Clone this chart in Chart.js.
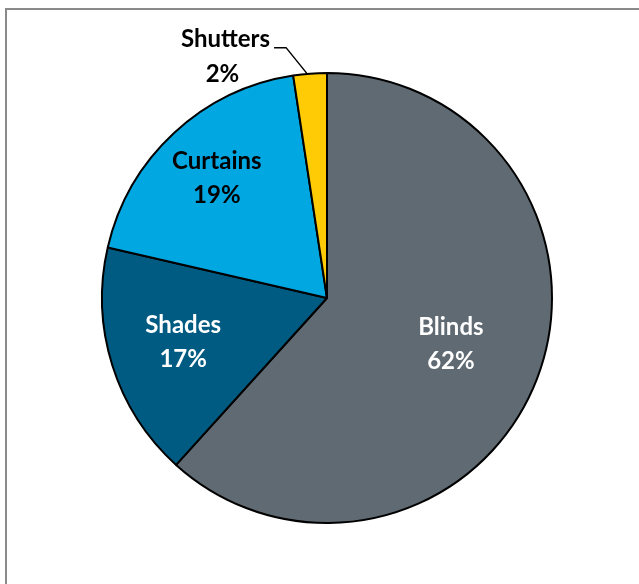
<!DOCTYPE html>
<html>
<head>
<meta charset="utf-8">
<script src="https://cdn.jsdelivr.net/npm/chart.js@4"></script>
<style>
  html, body { margin: 0; padding: 0; background: #fff; }
  #wrap { width: 639px; height: 584px; }
</style>
</head>
<body>
<div id="wrap"><canvas id="myChart" width="639" height="584"></canvas></div>
<script>
const categories = ['Blinds', 'Shades', 'Curtains', 'Shutters'];
const shares = [61.7, 16.9, 19.0, 2.4];
const colors = ['#5f6a72', '#005b82', '#00a7e1', '#ffcb05'];
const textColors = ['#ffffff', '#ffffff', '#000000', '#000000'];
// how far out (fraction of radius) the label sits
const labelRadius = [0.59, 0.67, 0.72, 0];

const framePlugin = {
    id: 'frame',
    beforeDraw(chart) {
        const c = chart.ctx;
        c.save();
        c.strokeStyle = '#8a8a8a';
        c.lineWidth = 2;
        c.beginPath();
        c.moveTo(6, 584);
        c.lineTo(6, 9);
        c.lineTo(639, 9);
        c.stroke();
        c.restore();
    }
};

const labelPlugin = {
    id: 'sliceLabels',
    afterDraw(chart) {
        const c = chart.ctx;
        const meta = chart.getDatasetMeta(0);
        c.save();
        c.font = 'bold 24px Lato';
        c.textBaseline = 'middle';
        meta.data.forEach((arc, i) => {
            const mid = (arc.startAngle + arc.endAngle) / 2;
            const text2 = Math.round(shares[i]) + '%';
            if (labelRadius[i] > 0) {
                const r = arc.outerRadius * labelRadius[i];
                const x = arc.x + Math.cos(mid) * r;
                const y = arc.y + Math.sin(mid) * r;
                c.fillStyle = textColors[i];
                c.textAlign = 'center';
                c.fillText(categories[i], x, y - 18);
                c.fillText(text2, x, y + 16);
            } else {
                // outside label with leader line
                const ex = arc.x + Math.cos(mid) * arc.outerRadius - 3;
                const ey = arc.y + Math.sin(mid) * arc.outerRadius;
                const elbowX = ex - 21, elbowY = ey - 26;
                c.strokeStyle = '#000';
                c.lineWidth = 1.5;
                c.beginPath();
                c.moveTo(ex, ey);
                c.lineTo(elbowX, elbowY);
                c.lineTo(elbowX - 12, elbowY);
                c.stroke();
                c.fillStyle = textColors[i];
                c.textAlign = 'center';
                const w = c.measureText(categories[i]).width;
                const cx = elbowX - 16 - w / 2;
                c.fillText(categories[i], cx, elbowY - 8);
                c.fillText(text2, cx - 3, elbowY + 27);
            }
        });
        c.restore();
    }
};

const ctx = document.getElementById('myChart').getContext('2d');
const myChart = new Chart(ctx, {
    type: 'pie',
    data: {
        labels: categories,
        datasets: [{
            data: shares,
            backgroundColor: colors,
            borderColor: '#000000',
            borderWidth: 2
        }]
    },
    options: {
        responsive: false,
        animation: false,
        layout: {
            padding: { left: 101, right: 86, top: 72, bottom: 60 }
        },
        plugins: {
            legend: { display: false },
            tooltip: { enabled: false }
        }
    },
    plugins: [framePlugin, labelPlugin]
});
</script>
</body>
</html>
